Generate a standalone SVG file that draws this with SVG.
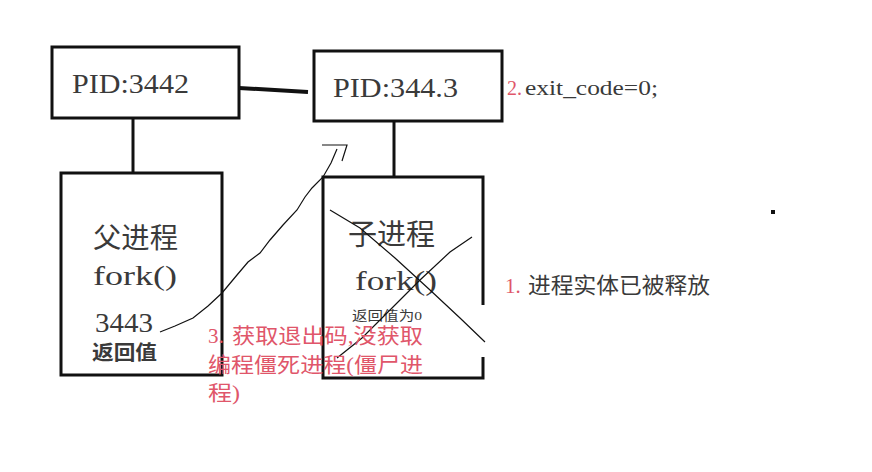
<svg xmlns="http://www.w3.org/2000/svg" width="872" height="472" viewBox="0 0 872 472">
<style>
.box{fill:none;stroke:#111;stroke-width:3}
.conn{stroke:#111;fill:none}
.t{font-family:"Liberation Serif","Noto Sans CJK SC",serif;fill:#3a3a3a}
.red{font-family:"Liberation Serif","Noto Sans CJK SC",serif;fill:#e0566a}
</style>
<rect width="872" height="472" fill="#fff"/>
<g id="connectors">
<line class="conn" x1="239" y1="88" x2="308" y2="92" stroke-width="4"/>
<line class="conn" x1="133" y1="118" x2="133" y2="173" stroke-width="3"/>
<line class="conn" x1="394" y1="121" x2="394" y2="177" stroke-width="3"/>
<path class="conn" stroke-width="1.2" d="M160,332 L175,326 L193,318 L208,306 L222,293 L237,275 L248,262 L260,253 L270,240 L283,225 L297,210 L305,197 L312,188 L323,177 L331,163 L337,149"/>
<path class="conn" stroke-width="1.2" d="M322,145 L347,145 L342,161"/>
</g>
<g id="node-parent-pid">
<rect class="box" x="52" y="47" width="187" height="71"/>
<text class="t" x="72" y="93" font-size="28" textLength="117" lengthAdjust="spacingAndGlyphs">PID:3442</text>
</g>
<g id="node-child-pid">
<rect class="box" x="314" y="51" width="188" height="70"/>
<text class="t" x="333" y="97" font-size="28" textLength="125" lengthAdjust="spacingAndGlyphs">PID:344.3</text>
</g>
<g id="node-parent">
<rect class="box" x="61" y="173" width="161" height="202"/>
<text class="t" x="93" y="248" font-size="28" textLength="85" lengthAdjust="spacingAndGlyphs">父进程</text>
<text class="t" x="93" y="285" font-size="28" textLength="84" lengthAdjust="spacingAndGlyphs">fork()</text>
<text class="t" x="95" y="332" font-size="27" textLength="58" lengthAdjust="spacingAndGlyphs">3443</text>
<text class="t" x="92" y="360" font-size="20" font-weight="bold" fill="#222" textLength="65" lengthAdjust="spacingAndGlyphs">返回值</text>
</g>
<g id="node-child">
<path class="conn" stroke-width="3" d="M483,305 L483,177 L323,177 L323,378 L483,378 L483,357"/>
<text class="t" x="348" y="245" font-size="29" textLength="87" lengthAdjust="spacingAndGlyphs">子进程</text>
<text class="t" x="355" y="290" font-size="28" textLength="82" lengthAdjust="spacingAndGlyphs">fork()</text>
<text class="t" x="352" y="320" font-size="13" fill="#666" textLength="70" lengthAdjust="spacingAndGlyphs">返回值为0</text>
<path class="conn" stroke-width="1.2" d="M330,210 L360,228 L395,258 L430,290 L460,318 L485,342"/>
<path class="conn" stroke-width="1.2" d="M472,237 L450,252 L420,280 L390,310 L362,338 L337,358"/>
</g>
<g id="labels">
<text class="red" x="507" y="95" font-size="20">2.</text>
<text class="t" x="525" y="95" font-size="20" textLength="133" lengthAdjust="spacingAndGlyphs">exit_code=0;</text>
<text class="red" x="505" y="293" font-size="21">1.</text>
<text class="t" x="528" y="293" font-size="22" textLength="182" lengthAdjust="spacingAndGlyphs">进程实体已被释放</text>
<text class="red" x="208" y="343" font-size="21">3.</text>
<text class="red" x="232" y="343" font-size="21" textLength="191" lengthAdjust="spacingAndGlyphs">获取退出码,没获取</text>
<text class="red" x="208" y="372" font-size="21" textLength="215" lengthAdjust="spacingAndGlyphs">编程僵死进程(僵尸进</text>
<text class="red" x="208" y="400" font-size="21" textLength="32" lengthAdjust="spacingAndGlyphs">程)</text>
</g>
<rect x="771" y="210" width="4" height="4" fill="#111"/>
</svg>
